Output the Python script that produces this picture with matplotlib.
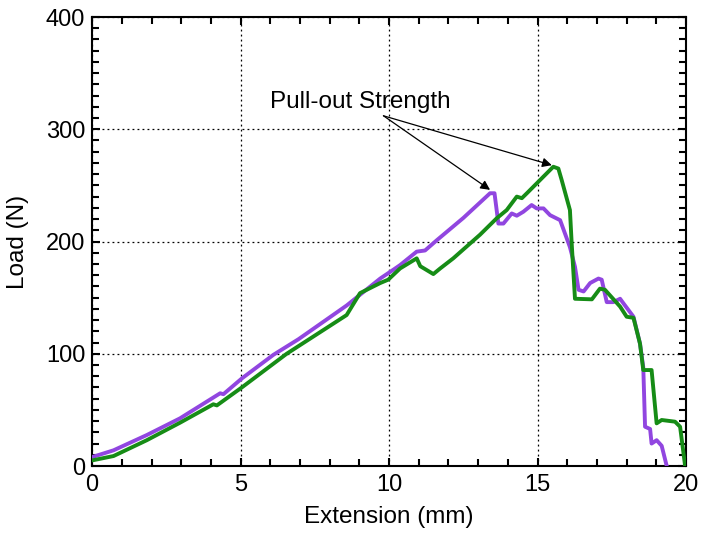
import matplotlib
matplotlib.use("Agg")
import matplotlib.pyplot as plt
from matplotlib.ticker import MultipleLocator

plt.rcParams['font.family'] = ['Liberation Sans', 'DejaVu Sans']

# purple specimen
purple_x = [0.0, 0.72, 1.84, 2.96, 4.31, 4.42, 5.04, 6.1, 6.95, 8.57, 9.7, 10.15, 10.37,
            10.93, 11.21, 11.6, 12.5, 13.4, 13.55, 13.68, 13.85, 14.13, 14.3, 14.52,
            14.8, 14.97, 15.2, 15.42, 15.76, 16.09, 16.26, 16.38, 16.55, 16.77, 17.05,
            17.16, 17.33, 17.55, 17.78, 17.89, 18.23, 18.45, 18.56, 18.62, 18.79, 18.84,
            19.01, 19.18, 19.35]
purple_y = [8, 14, 27.6, 42.5, 64.8, 64, 78, 99, 113, 143, 167, 175, 179,
            191, 192, 201, 221, 243, 243, 216, 216, 225, 223, 226.5,
            232.5, 229.5, 229.5, 223.5, 219, 195, 177.5, 157, 155.5, 163, 167,
            166, 146, 146, 149, 145, 133, 109, 88, 35, 33, 20,
            23, 18, 0]

# green specimen
green_x = [0.0, 0.72, 1.84, 2.96, 4.08, 4.2, 5.04, 6.55, 8.57, 9.02, 9.7, 9.97, 10.37,
           10.93, 11.05, 11.49, 11.72, 12.16, 13.06, 13.62, 13.96, 14.3, 14.47, 14.64,
           15.53, 15.7, 15.81, 16.09, 16.15, 16.26, 16.83, 17.1, 17.27, 17.44, 17.78,
           18.0, 18.23, 18.45, 18.56, 18.84, 19.01, 19.18, 19.63, 19.8, 19.97]
green_y = [5, 8.9, 23, 38.6, 55, 54, 70, 100, 134.5, 154, 163, 166, 176,
           185, 178, 171, 176, 185, 206, 220.6, 228, 240, 238.6, 243,
           266.6, 265, 255, 228, 198, 149, 148.5, 158, 157, 152, 142,
           133, 132, 109, 85.5, 85.5, 38, 41, 39.5, 35, 0]

# annotation: text anchor, arrow tail and the two peak points
label_text = "Pull-out Strength"
label_pos = (5.99, 324)
arrow_tail = (9.81, 312)
peaks = [(13.4, 246), (15.48, 268)]

fig = plt.figure(figsize=(7.09, 5.40), dpi=100)
ax = fig.add_axes([0.130, 0.137, 0.8376, 0.8315])

ax.plot(purple_x, purple_y, color='#9146e0', lw=2.8, zorder=3)
ax.plot(green_x, green_y, color='#168c16', lw=2.8, zorder=3)

ax.set_xlim(0, 20)
ax.set_ylim(0, 400)
ax.xaxis.set_major_locator(MultipleLocator(5))
ax.xaxis.set_minor_locator(MultipleLocator(1))
ax.yaxis.set_major_locator(MultipleLocator(100))
ax.yaxis.set_minor_locator(MultipleLocator(10))
ax.tick_params(which='both', direction='in', top=True, right=True, width=1.5,
               labelsize=17)
ax.tick_params(axis='x', pad=6)
ax.tick_params(axis='y', pad=5)
ax.tick_params(which='major', length=6)
ax.tick_params(which='minor', length=5)
for s in ax.spines.values():
    s.set_linewidth(1.5)
ax.grid(True, which='major', color='black', linestyle=(0, (1.5, 2.5)), linewidth=0.9)

ax.set_xlabel("Extension (mm)", fontsize=17.5, labelpad=7)
ax.set_ylabel("Load (N)", fontsize=17.5, labelpad=12)

for p in peaks:
    ax.annotate("", xy=p, xytext=arrow_tail,
                arrowprops=dict(arrowstyle='-|>', color='black', lw=0.9,
                                mutation_scale=14, shrinkA=0, shrinkB=0))
ax.text(label_pos[0], label_pos[1], label_text, ha='left', va='center', fontsize=17.5)

fig.savefig("out.png", dpi=100)
